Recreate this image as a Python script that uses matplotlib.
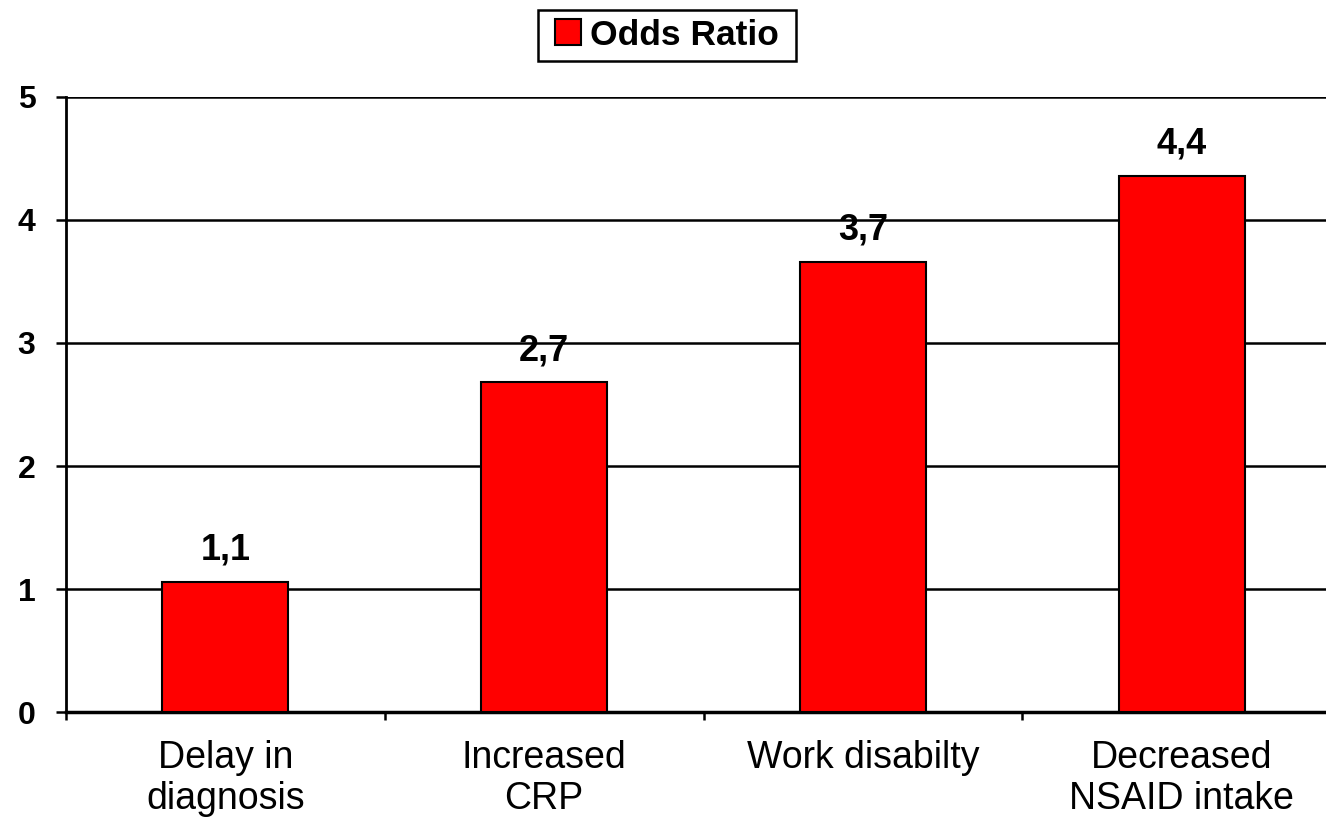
import matplotlib.pyplot as plt
from matplotlib.patches import Rectangle
from matplotlib.ticker import FixedLocator

categories = ['Delay in\ndiagnosis', 'Increased\nCRP', 'Work disabilty', 'Decreased\nNSAID intake']
odds_ratio = [1.06, 2.68, 3.66, 4.36]
y_ticks = [0, 1, 2, 3, 4, 5]

plt.rcParams['font.family'] = ['Liberation Sans', 'DejaVu Sans']

fig = plt.figure(figsize=(13.26, 8.19), dpi=100)
ax = fig.add_axes([0.0498, 0.1306, 0.9615, 0.7510])

x = list(range(len(categories)))
bars = ax.bar(x, odds_ratio, width=0.395, color='#ff0000', edgecolor='black',
              linewidth=1.5, label='Odds Ratio', zorder=3)

for b, v in zip(bars, odds_ratio):
    ax.annotate(f'{v:.1f}'.replace('.', ','), (b.get_x() + b.get_width() / 2, v),
                xytext=(0, 10), textcoords='offset points', ha='center', va='bottom',
                fontsize=26, fontweight='bold')

ax.set_xlim(-0.5, len(categories) - 0.5)
ax.set_ylim(0, 5)
ax.set_yticks(y_ticks)
ax.set_yticklabels([str(t) for t in y_ticks], fontsize=23, fontweight='bold')
ax.grid(axis='y', color='black', linewidth=1.8, zorder=1)
ax.tick_params(axis='y', length=7, width=1.8, pad=15)

# category labels sit between the boundary ticks
ax.set_xticks(x)
ax.set_xticklabels(categories, fontsize=27, linespacing=1.2, va='top')
ax.tick_params(axis='x', which='major', length=0, pad=20)
ax.xaxis.set_minor_locator(FixedLocator([i - 0.5 for i in range(len(categories) + 1)]))
ax.tick_params(axis='x', which='minor', length=6, width=1.8, direction='out')

for s in ['top', 'right']:
    ax.spines[s].set_visible(False)
ax.spines['left'].set_linewidth(2)
ax.spines['bottom'].set_linewidth(2.5)

leg = fig.legend(handles=[bars], labels=['Odds Ratio'], loc='center',
                 bbox_to_anchor=(0.503, 0.957), frameon=False,
                 handlelength=0.75, handleheight=0.75,
                 handletextpad=0.25, borderpad=0.25, borderaxespad=0,
                 prop={'size': 25.5, 'weight': 'bold'})

# legend box: wider side padding than top/bottom
fig.canvas.draw()
bb = leg.get_window_extent()
fig.patches.append(Rectangle((bb.x0 - 8, bb.y0), bb.width + 16, bb.height,
                             transform=None, fill=False, edgecolor='black',
                             linewidth=1.8))

fig.savefig('out.png', dpi=100)
